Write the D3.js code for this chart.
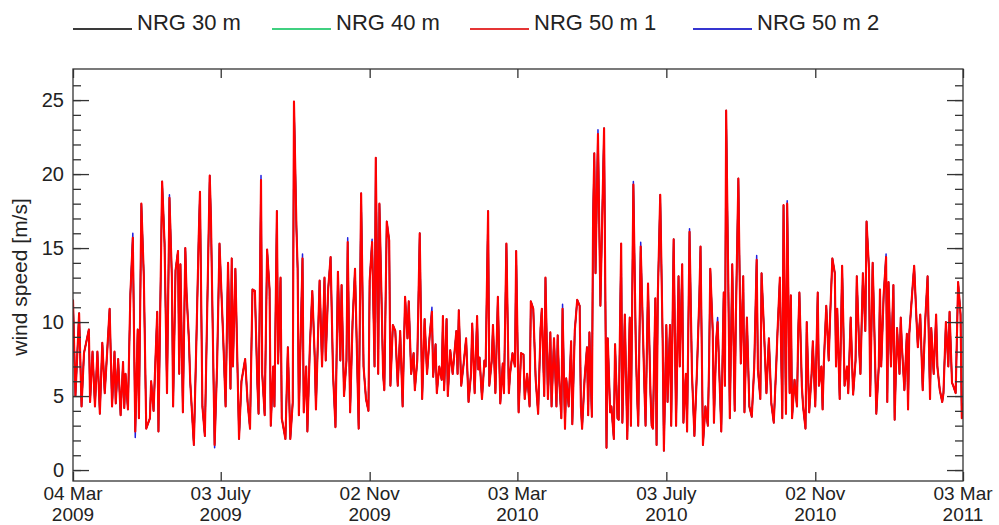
<!DOCTYPE html>
<html><head><meta charset="utf-8">
<script src="https://cdn.jsdelivr.net/npm/d3@7"></script>
<style>
body{margin:0;background:#fff}
svg{display:block}
text{font-family:"Liberation Sans",Arial,Helvetica,sans-serif;fill:#222}
</style>
</head><body>
<svg id="chart" width="999" height="525"></svg>
<script>
// ---------- data ----------
const seriesNames = ["NRG 30 m", "NRG 40 m", "NRG 50 m 1", "NRG 50 m 2"];
const startDay = "2009-03-04";
const endDay = "2011-03-03";
const dayOffsets = [
0,2,5,7,9,13,14,16,18,20,22,24,26,28,30,32,34,35,37,39,
41,42,43,45,47,49,51,53,54,56,58,60,63,64,66,69,70,73,75,77,
79,81,82,84,86,87,88,90,92,93,95,96,99,101,103,104,106,108,112,113,
116,118,120,123,125,127,129,130,131,133,136,138,141,143,145,147,149,151,152,154,
155,157,159,161,162,164,165,167,168,170,171,174,176,178,180,181,183,184,185,188,
189,191,192,194,196,198,199,202,204,206,207,209,211,213,215,217,219,220,222,224,
225,227,229,231,234,236,238,240,242,243,245,247,248,250,251,253,254,255,257,259,
260,262,264,266,268,270,272,274,275,277,279,280,282,284,286,288,290,292,294,295,
297,298,300,302,303,304,306,307,309,311,314,315,316,318,320,322,324,326,327,329,
331,332,333,335,337,338,340,341,343,344,346,348,350,352,353,355,357,358,360,362,
363,365,367,369,370,372,374,375,377,379,381,383,384,386,387,389,391,392,394,396,
397,398,400,401,403,404,406,408,409,411,413,415,416,417,419,421,422,423,425,426,
427,428,430,432,435,437,438,440,441,443,444,446,447,449,450,452,454,456,457,459,
461,462,463,465,466,468,469,471,473,474,475,477,478,479,481,483,484,486,487,489,
490,492,494,496,497,499,500,502,503,505,507,509,511,513,514,516,518,520,521,522,
524,525,527,528,531,533,534,535,537,538,540,542,543,545,547,549,550,552,554,556,
558,560,561,563,564,566,568,570,572,574,576,577,579,581,582,584,585,587,588,589,
591,593,594,595,597,598,600,601,603,605,606,608,610,611,613,614,615,617,619,620,
622,624,625,626,628,630,632,634,635,637,639,641,642,644,645,647,649,650,652,653,
655,656,658,660,661,662,664,666,667,668,670,672,673,675,677,678,679,681,683,684,
685,688,689,691,692,694,696,698,700,702,703,705,707,708,710,712,713,715,717,718,
720,721,723,725,727,728,729];

const nrg50m1 = [
11.5,5.0,10.6,4.3,7.9,9.5,4.6,8.0,4.3,8.0,3.8,8.6,5.2,8.0,10.9,4.3,8.0,4.5,7.5,3.7,
7.3,4.2,6.5,4.1,11.9,15.7,2.6,9.5,3.5,18.0,13.1,2.8,3.5,6.0,4.0,10.7,2.6,19.5,15.3,5.2,
18.4,13.0,4.3,13.5,14.8,6.5,13.9,3.9,15.0,12.0,8.7,6.0,1.7,8.5,15.8,18.8,4.3,2.3,19.9,17.0,
1.7,7.0,15.3,9.0,4.3,14.0,5.5,14.3,7.0,13.6,2.1,6.0,7.5,4.6,2.8,12.2,12.1,5.9,3.8,19.6,
6.5,3.7,14.9,12.2,3.0,7.0,4.3,17.5,7.2,13.0,3.5,2.1,8.3,2.1,4.6,24.9,16.4,13.6,3.7,14.3,
3.9,7.0,2.6,8.3,12.1,7.6,4.1,12.8,7.0,13.0,7.4,12.2,14.4,6.5,2.9,13.4,7.4,12.5,5.0,7.4,
15.4,3.9,10.0,13.6,2.8,18.7,7.0,4.8,4.0,12.8,15.4,7.0,21.1,6.5,18.0,10.5,6.5,5.4,16.8,15.5,
5.7,9.8,9.4,5.7,9.4,4.3,11.7,8.9,11.4,6.5,7.9,5.4,7.4,16.0,4.8,10.2,6.5,8.9,10.7,6.3,
8.5,5.2,7.0,6.1,10.4,5.4,10.2,5.0,8.1,6.5,9.4,6.5,10.8,5.7,7.2,8.9,4.6,6.5,9.9,5.2,
10.4,6.8,7.6,4.8,7.4,7.0,17.5,5.7,7.4,9.8,5.2,11.7,4.5,7.2,5.2,15.3,5.2,6.5,7.9,7.0,
14.8,3.9,7.9,7.8,4.8,6.5,4.3,11.4,10.9,6.1,3.8,9.6,10.9,5.0,13.0,4.8,9.3,4.3,8.9,4.3,
9.1,6.5,3.5,10.9,2.8,6.2,4.3,8.7,3.1,9.4,11.5,11.1,4.3,2.8,6.1,8.3,3.7,9.3,3.6,17.1,
21.4,13.3,22.7,11.1,23.1,1.5,8.9,3.9,4.3,2.1,8.5,3.5,3.4,15.3,3.2,10.5,2.1,10.3,3.0,19.3,
8.3,5.2,3.0,15.1,12.0,5.7,3.0,12.6,5.2,3.0,2.8,11.6,1.7,11.7,18.6,8.7,1.3,9.8,4.6,9.8,
3.0,15.6,3.0,13.1,7.0,13.9,3.2,6.5,2.6,16.1,6.5,2.3,6.5,11.6,15.1,1.7,4.3,3.0,7.1,13.6,
9.4,3.2,8.9,10.0,2.6,12.0,5.7,24.3,10.9,3.5,13.9,4.0,10.5,19.7,7.2,13.1,3.9,10.3,4.3,3.6,
7.0,14.2,6.8,4.8,13.3,9.4,5.2,8.9,4.5,3.2,7.0,9.2,13.0,3.5,17.9,3.8,18.0,5.2,11.8,3.5,
6.1,4.3,9.2,12.0,5.7,4.3,2.8,10.0,3.9,6.5,8.7,4.3,12.0,5.7,7.0,4.1,7.2,11.1,7.4,10.0,
14.3,13.3,7.0,10.9,4.8,13.8,5.7,7.0,5.2,10.3,5.1,7.4,13.1,8.1,6.5,13.3,9.4,16.8,13.6,5.0,
14.0,10.9,3.8,7.0,12.2,7.0,11.8,14.4,4.6,12.7,7.0,12.5,3.4,9.6,6.5,10.3,8.3,5.4,9.2,4.1,
9.2,12.7,13.8,10.0,8.3,10.5,5.4,10.0,13.1,4.8,9.6,6.5,10.5,7.0,5.4,4.6,5.2,10.0,7.0,10.7,
5.9,5.7,5.2,12.7,10.5,3.5,4.5];

const nrg50m2 = [
11.5,5.0,10.6,4.3,7.9,9.5,4.6,8.0,4.3,8.0,3.8,8.6,5.2,8.0,10.9,4.3,8.0,4.5,7.5,3.7,
7.3,4.2,6.5,4.1,11.9,16.0,2.2,9.5,3.5,18.0,13.1,2.8,3.5,6.0,4.0,10.7,2.6,19.5,15.3,5.2,
18.6,13.0,4.3,13.5,14.8,6.5,13.9,3.9,15.0,12.0,8.7,6.0,1.7,8.5,16.0,18.8,4.3,2.3,19.9,17.0,
1.5,7.0,15.3,9.0,4.3,14.0,5.5,14.3,7.0,13.6,2.1,6.0,7.5,4.6,2.8,12.2,12.1,5.9,3.8,19.9,
6.5,3.7,14.9,12.2,3.0,7.0,4.3,17.5,7.2,13.0,3.5,2.1,8.3,2.1,4.6,24.9,16.4,13.6,3.7,14.6,
3.9,7.0,2.6,8.3,12.1,7.6,4.1,12.8,7.0,13.0,7.4,12.2,14.4,6.5,2.9,13.4,7.4,12.5,5.0,7.4,
15.7,3.9,10.0,13.6,2.8,18.7,7.0,4.8,4.0,12.8,15.6,7.0,21.1,6.5,18.0,10.5,6.5,5.4,16.8,15.5,
5.7,9.8,9.4,5.7,9.4,4.3,11.7,8.9,11.4,6.5,7.9,5.4,7.4,16.0,4.8,10.2,6.5,8.9,11.0,6.3,
8.5,5.2,7.0,6.1,10.4,5.4,10.2,5.0,8.1,6.5,9.4,6.5,10.8,5.7,7.2,8.9,4.6,6.5,9.9,5.2,
10.4,6.8,7.6,4.8,7.4,7.0,17.5,5.7,7.4,9.8,5.2,11.7,4.5,7.2,5.2,15.3,5.2,6.5,7.9,7.0,
14.8,3.9,7.9,7.8,4.8,6.5,4.3,11.4,10.9,6.1,3.8,9.6,10.9,5.0,13.0,4.8,9.3,4.3,8.9,4.3,
9.1,6.5,3.5,11.2,2.8,6.2,4.3,8.7,3.1,9.4,11.5,11.1,4.3,2.8,6.1,8.3,3.7,9.3,3.6,17.1,
21.4,13.3,23.0,11.1,23.1,1.5,8.9,3.9,4.3,2.1,8.5,3.5,3.4,15.3,3.2,10.5,2.1,10.3,3.0,19.5,
8.3,5.2,3.0,15.4,12.0,5.7,3.0,12.6,5.2,3.0,2.8,11.6,1.7,11.7,18.6,8.7,1.3,9.8,4.6,9.8,
3.0,15.6,3.0,13.1,7.0,13.9,3.2,6.5,2.6,16.3,6.5,2.3,6.5,11.6,15.1,1.7,4.3,3.0,7.1,13.6,
9.4,3.2,8.9,10.3,2.6,12.0,5.7,24.3,10.9,3.5,13.9,4.0,10.5,19.7,7.2,13.1,3.9,10.3,4.3,3.6,
7.0,14.5,6.8,4.8,13.3,9.4,5.2,8.9,4.5,3.2,7.0,9.2,13.0,3.5,17.9,3.8,18.2,5.2,11.8,3.5,
6.1,4.3,9.2,12.0,5.7,4.3,2.8,10.0,3.9,6.5,8.7,4.3,12.0,5.7,7.0,4.1,7.2,11.1,7.4,10.0,
14.3,13.3,7.0,10.9,4.8,13.8,5.7,7.0,5.2,10.3,5.1,7.4,13.1,8.1,6.5,13.3,9.4,16.8,13.6,5.0,
14.0,10.9,3.8,7.0,12.2,7.0,11.8,14.6,4.6,12.7,7.0,12.5,3.4,9.6,6.5,10.3,8.3,5.4,9.2,4.1,
9.2,12.7,13.8,10.0,8.3,10.5,5.4,10.0,13.1,4.8,9.6,6.5,10.5,7.0,5.4,4.6,5.2,10.0,7.0,10.7,
5.9,5.7,5.2,12.7,10.5,3.5,4.5];

// the 30 m and 40 m records are indistinguishable from 50 m 1 in the picture
const nrg30m = [
11.5,5.0,10.6,4.3,7.9,9.5,4.6,8.0,4.3,8.0,3.8,8.6,5.2,8.0,10.9,4.3,8.0,4.5,7.5,3.7,
7.3,4.2,6.5,4.1,11.9,15.7,2.6,9.5,3.5,18.0,13.1,2.8,3.5,6.0,4.0,10.7,2.6,19.5,15.3,5.2,
18.4,13.0,4.3,13.5,14.8,6.5,13.9,3.9,15.0,12.0,8.7,6.0,1.7,8.5,15.8,18.8,4.3,2.3,19.9,17.0,
1.7,7.0,15.3,9.0,4.3,14.0,5.5,14.3,7.0,13.6,2.1,6.0,7.5,4.6,2.8,12.2,12.1,5.9,3.8,19.6,
6.5,3.7,14.9,12.2,3.0,7.0,4.3,17.5,7.2,13.0,3.5,2.1,8.3,2.1,4.6,24.9,16.4,13.6,3.7,14.3,
3.9,7.0,2.6,8.3,12.1,7.6,4.1,12.8,7.0,13.0,7.4,12.2,14.4,6.5,2.9,13.4,7.4,12.5,5.0,7.4,
15.4,3.9,10.0,13.6,2.8,18.7,7.0,4.8,4.0,12.8,15.4,7.0,21.1,6.5,18.0,10.5,6.5,5.4,16.8,15.5,
5.7,9.8,9.4,5.7,9.4,4.3,11.7,8.9,11.4,6.5,7.9,5.4,7.4,16.0,4.8,10.2,6.5,8.9,10.7,6.3,
8.5,5.2,7.0,6.1,10.4,5.4,10.2,5.0,8.1,6.5,9.4,6.5,10.8,5.7,7.2,8.9,4.6,6.5,9.9,5.2,
10.4,6.8,7.6,4.8,7.4,7.0,17.5,5.7,7.4,9.8,5.2,11.7,4.5,7.2,5.2,15.3,5.2,6.5,7.9,7.0,
14.8,3.9,7.9,7.8,4.8,6.5,4.3,11.4,10.9,6.1,3.8,9.6,10.9,5.0,13.0,4.8,9.3,4.3,8.9,4.3,
9.1,6.5,3.5,10.9,2.8,6.2,4.3,8.7,3.1,9.4,11.5,11.1,4.3,2.8,6.1,8.3,3.7,9.3,3.6,17.1,
21.4,13.3,22.7,11.1,23.1,1.5,8.9,3.9,4.3,2.1,8.5,3.5,3.4,15.3,3.2,10.5,2.1,10.3,3.0,19.3,
8.3,5.2,3.0,15.1,12.0,5.7,3.0,12.6,5.2,3.0,2.8,11.6,1.7,11.7,18.6,8.7,1.3,9.8,4.6,9.8,
3.0,15.6,3.0,13.1,7.0,13.9,3.2,6.5,2.6,16.1,6.5,2.3,6.5,11.6,15.1,1.7,4.3,3.0,7.1,13.6,
9.4,3.2,8.9,10.0,2.6,12.0,5.7,24.3,10.9,3.5,13.9,4.0,10.5,19.7,7.2,13.1,3.9,10.3,4.3,3.6,
7.0,14.2,6.8,4.8,13.3,9.4,5.2,8.9,4.5,3.2,7.0,9.2,13.0,3.5,17.9,3.8,18.0,5.2,11.8,3.5,
6.1,4.3,9.2,12.0,5.7,4.3,2.8,10.0,3.9,6.5,8.7,4.3,12.0,5.7,7.0,4.1,7.2,11.1,7.4,10.0,
14.3,13.3,7.0,10.9,4.8,13.8,5.7,7.0,5.2,10.3,5.1,7.4,13.1,8.1,6.5,13.3,9.4,16.8,13.6,5.0,
14.0,10.9,3.8,7.0,12.2,7.0,11.8,14.4,4.6,12.7,7.0,12.5,3.4,9.6,6.5,10.3,8.3,5.4,9.2,4.1,
9.2,12.7,13.8,10.0,8.3,10.5,5.4,10.0,13.1,4.8,9.6,6.5,10.5,7.0,5.4,4.6,5.2,10.0,7.0,10.7,
5.9,5.7,5.2,12.7,10.5,3.5,4.5];

const nrg40m = [
11.5,5.0,10.6,4.3,7.9,9.5,4.6,8.0,4.3,8.0,3.8,8.6,5.2,8.0,10.9,4.3,8.0,4.5,7.5,3.7,
7.3,4.2,6.5,4.1,11.9,15.7,2.6,9.5,3.5,18.0,13.1,2.8,3.5,6.0,4.0,10.7,2.6,19.5,15.3,5.2,
18.4,13.0,4.3,13.5,14.8,6.5,13.9,3.9,15.0,12.0,8.7,6.0,1.7,8.5,15.8,18.8,4.3,2.3,19.9,17.0,
1.7,7.0,15.3,9.0,4.3,14.0,5.5,14.3,7.0,13.6,2.1,6.0,7.5,4.6,2.8,12.2,12.1,5.9,3.8,19.6,
6.5,3.7,14.9,12.2,3.0,7.0,4.3,17.5,7.2,13.0,3.5,2.1,8.3,2.1,4.6,24.9,16.4,13.6,3.7,14.3,
3.9,7.0,2.6,8.3,12.1,7.6,4.1,12.8,7.0,13.0,7.4,12.2,14.4,6.5,2.9,13.4,7.4,12.5,5.0,7.4,
15.4,3.9,10.0,13.6,2.8,18.7,7.0,4.8,4.0,12.8,15.4,7.0,21.1,6.5,18.0,10.5,6.5,5.4,16.8,15.5,
5.7,9.8,9.4,5.7,9.4,4.3,11.7,8.9,11.4,6.5,7.9,5.4,7.4,16.0,4.8,10.2,6.5,8.9,10.7,6.3,
8.5,5.2,7.0,6.1,10.4,5.4,10.2,5.0,8.1,6.5,9.4,6.5,10.8,5.7,7.2,8.9,4.6,6.5,9.9,5.2,
10.4,6.8,7.6,4.8,7.4,7.0,17.5,5.7,7.4,9.8,5.2,11.7,4.5,7.2,5.2,15.3,5.2,6.5,7.9,7.0,
14.8,3.9,7.9,7.8,4.8,6.5,4.3,11.4,10.9,6.1,3.8,9.6,10.9,5.0,13.0,4.8,9.3,4.3,8.9,4.3,
9.1,6.5,3.5,10.9,2.8,6.2,4.3,8.7,3.1,9.4,11.5,11.1,4.3,2.8,6.1,8.3,3.7,9.3,3.6,17.1,
21.4,13.3,22.7,11.1,23.1,1.5,8.9,3.9,4.3,2.1,8.5,3.5,3.4,15.3,3.2,10.5,2.1,10.3,3.0,19.3,
8.3,5.2,3.0,15.1,12.0,5.7,3.0,12.6,5.2,3.0,2.8,11.6,1.7,11.7,18.6,8.7,1.3,9.8,4.6,9.8,
3.0,15.6,3.0,13.1,7.0,13.9,3.2,6.5,2.6,16.1,6.5,2.3,6.5,11.6,15.1,1.7,4.3,3.0,7.1,13.6,
9.4,3.2,8.9,10.0,2.6,12.0,5.7,24.3,10.9,3.5,13.9,4.0,10.5,19.7,7.2,13.1,3.9,10.3,4.3,3.6,
7.0,14.2,6.8,4.8,13.3,9.4,5.2,8.9,4.5,3.2,7.0,9.2,13.0,3.5,17.9,3.8,18.0,5.2,11.8,3.5,
6.1,4.3,9.2,12.0,5.7,4.3,2.8,10.0,3.9,6.5,8.7,4.3,12.0,5.7,7.0,4.1,7.2,11.1,7.4,10.0,
14.3,13.3,7.0,10.9,4.8,13.8,5.7,7.0,5.2,10.3,5.1,7.4,13.1,8.1,6.5,13.3,9.4,16.8,13.6,5.0,
14.0,10.9,3.8,7.0,12.2,7.0,11.8,14.4,4.6,12.7,7.0,12.5,3.4,9.6,6.5,10.3,8.3,5.4,9.2,4.1,
9.2,12.7,13.8,10.0,8.3,10.5,5.4,10.0,13.1,4.8,9.6,6.5,10.5,7.0,5.4,4.6,5.2,10.0,7.0,10.7,
5.9,5.7,5.2,12.7,10.5,3.5,4.5];

const xTickDates = ["2009-03-04","2009-07-03","2009-11-02","2010-03-03","2010-07-03","2010-11-02","2011-03-03"];
const xTickLine1 = ["04 Mar","03 July","02 Nov","03 Mar","03 July","02 Nov","03 Mar"];
const xTickLine2 = ["2009","2009","2009","2010","2010","2010","2011"];
const yMajorTicks = [0,5,10,15,20,25];
const yMinorTicks = [0,1,2,3,4,5,6,7,8,9,10,11,12,13,14,15,16,17,18,19,20,21,22,23,24,25,26];
const yTitle = "wind speed [m/s]";

// ---------- styles / layout ----------
const colors = ["#2a2a2a", "#2ecc6a", "#ff0000", "#2020e0"];
const widths = [1.3, 1.3, 2.1, 1.5];
const legendColors = ["#3a3a3a", "#40d080", "#e53535", "#3535d0"];
const drawOrder = [0, 1, 3, 2];
const L = 73, R = 963, T = 69, B = 481;
const axisColor = "#333";

const svg = d3.select("#chart");
const parse = d3.utcParse("%Y-%m-%d");
const t0 = parse(startDay);

const x = d3.scaleUtc().domain([t0, parse(endDay)]).range([L, R]);
const y = d3.scaleLinear().domain([-0.74, 27.1]).range([B, T]);

const seriesValues = [nrg30m, nrg40m, nrg50m1, nrg50m2];
const n = dayOffsets.length;
const series = seriesValues.map(vals =>
  d3.range(Math.min(n, vals.length)).map(i => ({date: d3.utcDay.offset(t0, dayOffsets[i]), v: vals[i]})));

svg.append("defs").append("clipPath").attr("id", "clip")
  .append("rect").attr("x", L).attr("y", T).attr("width", R - L).attr("height", B - T);

const line = d3.line().x(d => x(d.date)).y(d => y(d.v));
const gLines = svg.append("g").attr("clip-path", "url(#clip)");
drawOrder.forEach(k => {
  gLines.append("path").datum(series[k])
    .attr("fill", "none").attr("stroke", colors[k])
    .attr("stroke-width", widths[k]).attr("stroke-linejoin", "round")
    .attr("d", line);
});

// ---------- axes ----------
function styleAxis(g) {
  g.select(".domain").remove();
  g.selectAll(".tick line").attr("stroke", axisColor).attr("stroke-width", 1.3);
}
svg.append("g").attr("transform", `translate(${L},0)`)
  .call(d3.axisLeft(y).tickValues(yMinorTicks).tickSize(-8).tickFormat(""))
  .call(styleAxis);
svg.append("g").attr("transform", `translate(${L},0)`)
  .call(d3.axisLeft(y).tickValues(yMajorTicks).tickSize(-16).tickPadding(9).tickFormat(d3.format("d")))
  .call(styleAxis)
  .call(g => g.selectAll(".tick text").attr("font-size", 20)
    .attr("font-family", '"Liberation Sans",Arial,sans-serif').attr("fill", "#222"));
svg.append("g").attr("transform", `translate(${R},0)`)
  .call(d3.axisRight(y).tickValues(yMinorTicks).tickSize(-8).tickFormat(""))
  .call(styleAxis);
svg.append("g").attr("transform", `translate(${R},0)`)
  .call(d3.axisRight(y).tickValues(yMajorTicks).tickSize(-16).tickFormat(""))
  .call(styleAxis);

const xTicks = xTickDates.map(parse);
svg.append("g").attr("transform", `translate(0,${B})`)
  .call(d3.axisBottom(x).tickValues(xTicks).tickSize(-9).tickFormat(""))
  .call(styleAxis);
svg.append("g").attr("transform", `translate(0,${T})`)
  .call(d3.axisTop(x).tickValues(xTicks).tickSize(-9).tickFormat(""))
  .call(styleAxis);

const xl = svg.append("g").attr("font-size", 19).attr("text-anchor", "middle");
xTicks.forEach((d, i) => {
  xl.append("text").attr("x", x(d)).attr("y", 500).text(xTickLine1[i]);
  xl.append("text").attr("x", x(d)).attr("y", 521).text(xTickLine2[i]);
});

// frame
svg.append("rect").attr("x", L).attr("y", T).attr("width", R - L).attr("height", B - T)
  .attr("fill", "none").attr("stroke", axisColor).attr("stroke-width", 1.3);

// y title
svg.append("text").attr("transform", `translate(27,${(T + B) / 2 + 2}) rotate(-90)`)
  .attr("text-anchor", "middle").attr("font-size", 21).text(yTitle);

// ---------- legend ----------
const legendX = [73, 272, 470, 693];
const lg = svg.append("g");
seriesNames.forEach((name, i) => {
  lg.append("line").attr("x1", legendX[i]).attr("x2", legendX[i] + 59)
    .attr("y1", 29).attr("y2", 29).attr("stroke", legendColors[i]).attr("stroke-width", 2);
  lg.append("text").attr("x", legendX[i] + 64).attr("y", 30).attr("font-size", 22).text(name);
});
</script>
</body></html>
